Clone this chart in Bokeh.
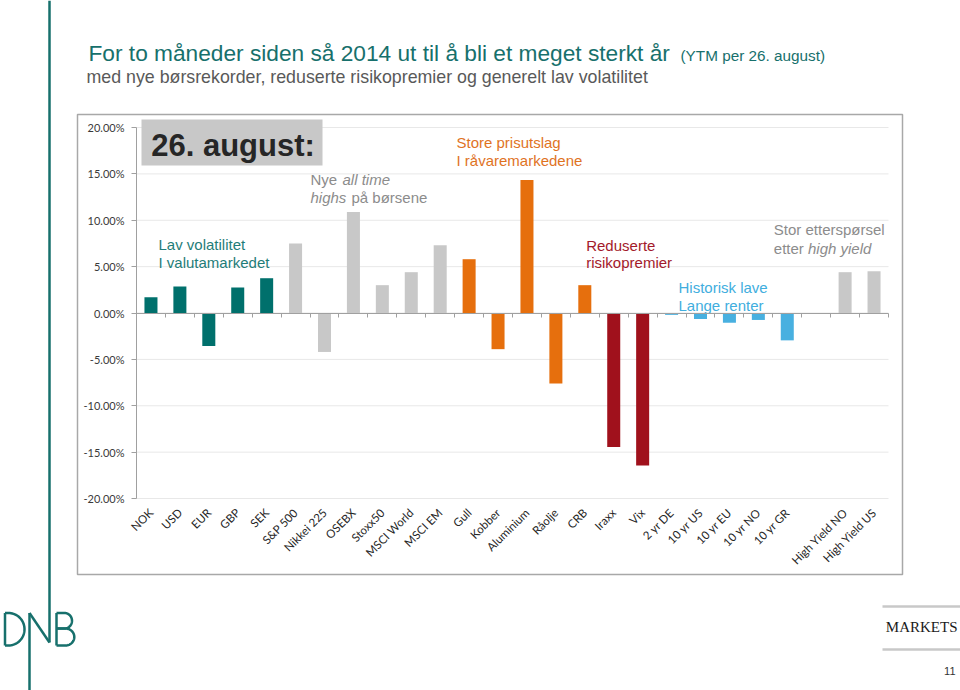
import math
import numpy as np
from bokeh.plotting import figure
from bokeh.models import (Range1d, LinearAxis, FixedTicker, PrintfTickFormatter,
                          CustomJSTickFormatter, ColumnDataSource)
from bokeh.core.properties import value
from bokeh.embed import file_html
from bokeh.resources import INLINE

# ---------------- data ----------------
CATEGORIES = ["NOK", "USD", "EUR", "GBP", "SEK",
              "S&P 500", "Nikkei 225", "OSEBX", "Stoxx50", "MSCI World", "MSCI EM",
              "Gull", "Kobber", "Aluminium", "Råolje", "CRB",
              "Iraxx", "Vix",
              "2 yr DE", "10 yr US", "10 yr EU", "10 yr NO", "10 yr GR",
              "",
              "High Yield NO", "High Yield US"]
YTM_PCT = [1.7, 2.85, -3.55, 2.75, 3.75,
           7.5, -4.2, 10.9, 3.0, 4.4, 7.3,
           5.8, -3.9, 14.35, -7.6, 3.0,
           -14.45, -16.45,
           -0.2, -0.65, -1.05, -0.75, -2.95,
           None,
           4.4, 4.5]
GROUPS = (["valuta"] * 5 + ["aksjer"] * 6 + ["ravarer"] * 5 + ["risiko"] * 2 +
          ["renter"] * 5 + ["tom"] + ["hy"] * 2)
Y_TICKS = [-20, -15, -10, -5, 0, 5, 10, 15, 20]

GROUP_COLORS = {"valuta": "#00706c", "aksjer": "#c8c8c8", "ravarer": "#e66f0d",
                "risiko": "#a0111c", "renter": "#48b0e0", "tom": "#ffffff",
                "hy": "#c8c8c8"}

# ---------------- layout constants (canvas pixels) ----------------
W, H = 960, 690
PLOT_L, PLOT_R, PLOT_T, PLOT_B = 136, 888, 127, 498
N = len(CATEGORIES)

# numeric ranges for the chart so that it occupies the plot area of a full-canvas frame
xr = N * W / (PLOT_R - PLOT_L)
x_start = -PLOT_L * xr / W
y_span = (Y_TICKS[-1] - Y_TICKS[0]) * H / (PLOT_B - PLOT_T)
y_end = Y_TICKS[-1] + PLOT_T * y_span / H

p = figure(width=W, height=H, output_backend="svg", toolbar_location=None,
           x_range=Range1d(0, W), y_range=Range1d(H, 0),
           x_axis_type=None, y_axis_type=None, min_border=0)
p.outline_line_color = None
p.background_fill_color = "white"
p.border_fill_color = "white"
p.extra_x_ranges = {"cat": Range1d(x_start, x_start + xr)}
p.extra_y_ranges = {"pct": Range1d(y_end - y_span, y_end)}

FONT = "Liberation Sans"
BASELINE_FIX = 0.32  # renderer places alphabetic baseline ~0.32em low


def txt(x, y, s, size, color, style="normal", font=FONT, align="left"):
    p.text(x=[x], y=[y - BASELINE_FIX * size], text=[s], text_font=value(font),
           text_font_size=f"{size}px", text_color=color, text_font_style=value(style),
           text_align=value(align), text_baseline=value("alphabetic"))


TEAL = "#17706c"

# ---- page decorations ----
# chart frame box
p.quad(left=77, right=902, top=114, bottom=574, fill_color=None,
       line_color="#a8a8a8", line_width=1.5)
# long vertical line + DNB logo
p.segment(x0=[49], y0=[0], x1=[49], y1=[642], line_color=TEAL, line_width=2.5)
p.segment(x0=[29, 29], y0=[612.5, 612.5], x1=[29, 49], y1=[H, 642],
          line_color=TEAL, line_width=2.5)


def bowl(x0, xs, yt, yb, rx):
    t = np.linspace(-math.pi / 2, math.pi / 2, 40)
    yc, ry = (yt + yb) / 2, (yb - yt) / 2
    xs_ = [x0, xs] + list(xs + rx * np.cos(t)) + [xs, x0]
    ys_ = [yt, yt] + list(yc + ry * np.sin(t)) + [yb, yb]
    return xs_, ys_


dx, dy = bowl(4.5, 8, 612.5, 645, 16)
p.line(dx, dy, line_color=TEAL, line_width=2.5)
p.segment(x0=[4.5], y0=[612.5], x1=[4.5], y1=[645], line_color=TEAL, line_width=2.5)
bx, by = bowl(56, 64, 612.5, 628, 7.5)
p.line(bx, by, line_color=TEAL, line_width=2.5)
bx2, by2 = bowl(56, 65, 628, 645, 8.8)
p.line(bx2, by2, line_color=TEAL, line_width=2.5)
p.segment(x0=[56], y0=[612.5], x1=[56], y1=[645], line_color=TEAL, line_width=2.5)

# MARKETS block
p.segment(x0=[882, 882], y0=[606, 649], x1=[W, W], y1=[606, 649],
          line_color="#c8c8c8", line_width=2.5)
txt(957, 631, "MARKETS", 15, "#1a1a1a", font="Liberation Serif", align="right")
txt(955, 674, "11", 11, "#333333", align="right")

# titles
txt(88, 60, "For to måneder siden så 2014 ut til å bli et meget sterkt år", 22.7, TEAL)
txt(680, 60, "(YTM per 26. august)", 15.3, TEAL)
txt(86, 82, "med nye børsrekorder, reduserte risikopremier og generelt lav volatilitet",
    17.8, "#595959")

# ---- chart ----
# gridlines
p.segment(x0=[0] * len(Y_TICKS), x1=[N] * len(Y_TICKS), y0=Y_TICKS, y1=Y_TICKS,
          line_color="#e8e8e8", line_width=1, x_range_name="cat", y_range_name="pct")

vals = np.array([np.nan if v is None else v for v in YTM_PCT], dtype=float)
src = ColumnDataSource(dict(
    x=[i + 0.5 for i in range(N)],
    top=vals,
    color=[GROUP_COLORS[g] for g in GROUPS],
))
p.vbar(x="x", top="top", bottom=0, width=0.45, fill_color="color", line_color=None,
       source=src, x_range_name="cat", y_range_name="pct")

# y axis
yax = LinearAxis(x_range_name="cat", y_range_name="pct", fixed_location=0,
                 bounds=(Y_TICKS[0], Y_TICKS[-1]),
                 ticker=FixedTicker(ticks=Y_TICKS),
                 formatter=PrintfTickFormatter(format="%.2f%%"))
yax.axis_line_color = "#a0a0a0"
yax.major_tick_line_color = "#a0a0a0"
yax.major_tick_out = 5
yax.major_tick_in = 0
yax.minor_tick_line_color = None
yax.major_label_standoff = 7
yax.major_label_text_font = "Lato"
yax.major_label_text_font_size = "11px"
yax.major_label_text_color = "#3a3a3a"
p.add_layout(yax, "left")

# zero axis with boundary ticks
zax = LinearAxis(x_range_name="cat", y_range_name="pct", fixed_location=0,
                 bounds=(0, N), ticker=FixedTicker(ticks=list(range(N + 1))),
                 formatter=CustomJSTickFormatter(code="return ''"))
zax.axis_line_color = "#a0a0a0"
zax.major_tick_line_color = "#a0a0a0"
zax.major_tick_out = 4
zax.major_tick_in = 0
zax.minor_tick_line_color = None
p.add_layout(zax, "below")

# category labels at the bottom
label_ticks = [i + 0.5 for i, c in enumerate(CATEGORIES) if c]
lax = LinearAxis(x_range_name="cat", y_range_name="pct", fixed_location=Y_TICKS[0],
                 ticker=FixedTicker(ticks=label_ticks),
                 major_label_overrides={i + 0.5: CATEGORIES[i]
                                        for i, c in enumerate(CATEGORIES) if c})
lax.axis_line_color = None
lax.major_tick_line_color = None
lax.minor_tick_line_color = None
lax.major_label_orientation = math.pi / 4
lax.major_label_standoff = 6
lax.major_label_text_font = "Lato"
lax.major_label_text_font_size = "11.5px"
lax.major_label_text_color = "#262626"
p.add_layout(lax, "below")

# ---- annotations ----
p.quad(left=141, right=322, top=119, bottom=165, fill_color="#c8c8c8", line_color=None)
txt(150.7, 155, "26. august:", 31, "#262626", style="bold")

GRAY_T = "#8c8c8c"
txt(310, 184, "Nye", 15, GRAY_T)
txt(342, 184, "all time", 15, GRAY_T, style="italic")
txt(310, 202, "highs", 15, GRAY_T, style="italic")
txt(351, 202, "på børsene", 15, GRAY_T)

txt(158, 249, "Lav volatilitet", 15, "#1f7d79")
txt(158, 267, "I valutamarkedet", 15, "#1f7d79")

txt(456, 146.7, "Store prisutslag", 15, "#e0731f")
txt(456, 164.3, "I råvaremarkedene", 15, "#e0731f")

txt(585.7, 249.3, "Reduserte", 15, "#a31a2b")
txt(585.7, 266.7, "risikopremier", 15, "#a31a2b")

txt(678, 292, "Historisk lave", 15, "#41aede")
txt(678, 309.3, "Lange renter", 15, "#41aede")

txt(773.3, 234, "Stor etterspørsel", 15, GRAY_T)
txt(773.3, 252.7, "etter", 15, GRAY_T)
txt(807.5, 252.7, "high yield", 15, GRAY_T, style="italic")

open("out.html", "w").write(file_html(p, INLINE))
